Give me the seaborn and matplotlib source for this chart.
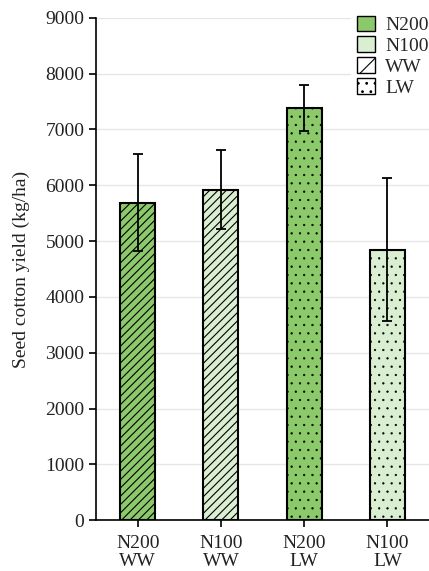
import matplotlib
matplotlib.use("Agg")
import matplotlib.pyplot as plt
import seaborn as sns
import pandas as pd
from matplotlib.patches import Patch

categories = ["N200\nWW", "N100\nWW", "N200\nLW", "N100\nLW"]
nitrogen = ["N200", "N100", "N200", "N100"]
water = ["WW", "WW", "LW", "LW"]
yields = [5690, 5920, 7380, 4840]
errors = [870, 710, 410, 1280]

df = pd.DataFrame({"cat": categories, "N": nitrogen, "W": water, "y": yields, "err": errors})

sns.set_theme(style="white")
plt.rcParams['font.family'] = ['Liberation Serif', 'DejaVu Serif']
plt.rcParams['hatch.linewidth'] = 0.8
plt.rcParams['hatch.color'] = '#333333'

colors = {"N200": "#8cc96a", "N100": "#daeed1"}
hatches = {"WW": "////", "LW": ".."}
FS = 14

fig = plt.figure(figsize=(4.29, 5.71), dpi=100)
ax = fig.add_axes([0.224, 0.089, 0.776, 0.88])

sns.barplot(data=df, x="cat", y="y", hue="N", palette=colors, dodge=False,
            saturation=1, width=0.42, edgecolor="black", linewidth=1.5, ax=ax,
            legend=False, errorbar=None)

bars_sorted = sorted(ax.patches, key=lambda p: p.get_x())
for p, w in zip(bars_sorted, df["W"]):
    p.set_hatch(hatches[w])
    p.set_edgecolor("black")
    if w == "LW" and hasattr(p, "set_hatch_linewidth"):
        p.set_hatch_linewidth(0.4)

ax.errorbar(range(len(categories)), df["y"], yerr=df["err"], fmt="none",
            ecolor="black", elinewidth=1.3, capsize=3.5, capthick=1.3, zorder=5)

ax.set_ylim(0, 9000)
ax.set_xlim(-0.5, 3.5)
ax.set_yticks(range(0, 9001, 1000))
ax.yaxis.grid(True, color="#e6e6e6", linewidth=1)
ax.set_axisbelow(True)
for s in ["top", "right"]:
    ax.spines[s].set_visible(False)
for s in ["left", "bottom"]:
    ax.spines[s].set_color("black")
    ax.spines[s].set_linewidth(1.2)
ax.tick_params(axis="both", which="both", length=5, width=1.2, color="black",
               labelsize=FS, labelcolor="#222222", direction="out",
               left=True, bottom=True)
ax.tick_params(axis="x", pad=6)
for lab in ax.get_xticklabels():
    lab.set_linespacing(1.05)
ax.set_xlabel("")
ax.set_ylabel("Seed cotton yield (kg/ha)", fontsize=FS, color="#222222", labelpad=11)

handles = [
    Patch(facecolor=colors["N200"], edgecolor="black", label="N200"),
    Patch(facecolor=colors["N100"], edgecolor="black", label="N100"),
    Patch(facecolor="white", edgecolor="black", hatch="/", label="WW"),
    Patch(facecolor="white", edgecolor="black", hatch="..", label="LW"),
]
leg = ax.legend(handles=handles, loc="upper right", bbox_to_anchor=(1.045, 1.035),
                frameon=True, framealpha=1, edgecolor="white", fontsize=FS,
                handlelength=0.95, handleheight=0.85, handletextpad=0.5,
                labelspacing=0.12, borderpad=0.3)
leg.get_frame().set_linewidth(0)

fig.savefig("out.png", dpi=100)
